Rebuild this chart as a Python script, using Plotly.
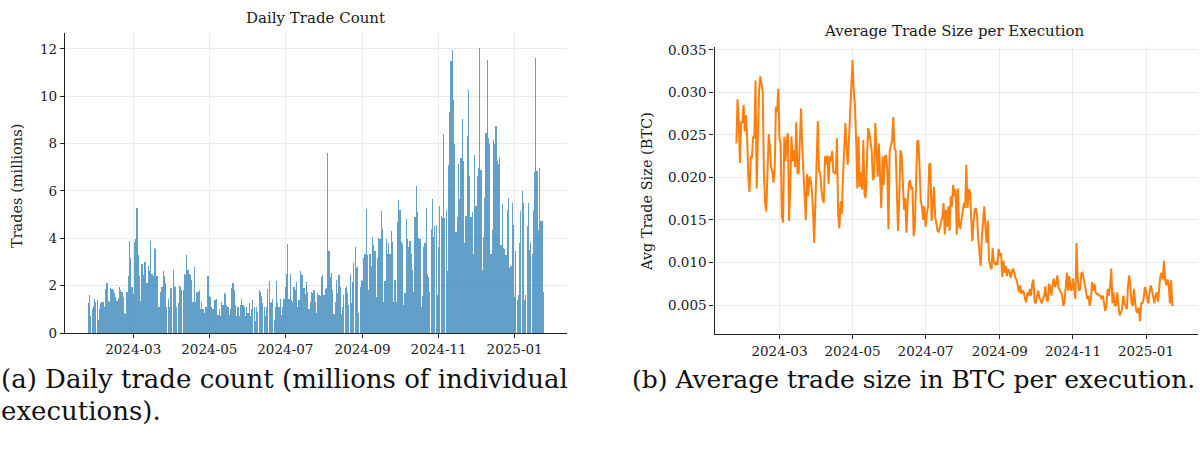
import pandas as pd
import plotly.graph_objects as go

start_date = "2024-01-25"

# Daily trade count (millions), one value per day from start_date
trade_count_m = [
    1.25,1.6,0.72,1.0,1.15,1.45,1.3,
    1.4,0.55,1.0,1.25,1.3,1.3,1.1,
    1.85,2.1,1.35,1.3,1.9,1.85,1.8,
    1.7,1.5,1.35,1.45,1.95,1.8,1.75,
    1.5,0.85,0.8,1.75,2.4,3.9,3.15,
    1.95,
    1.65,3.85,3.95,5.3,3.3,2.4,1.35,
    2.9,2.45,3.0,3.0,2.1,2.85,2.6,
    3.9,2.5,2.4,3.6,3.55,2.4,1.1,
    1.1,1.75,1.95,2.6,2.4,2.1,1.1,
    1.45,1.1,1.9,1.9,2.65,2.0,1.95,
    1.1,1.25,2.0,1.95,1.8,1.8,2.5,
    2.45,3.3,2.65,2.5,2.45,2.25,1.3,
    2.8,1.3,1.75,1.75,
    1.8,1.0,1.3,1.0,0.85,1.1,1.1,2.4,1.55,1.5,
    1.1,1.0,1.4,1.4,1.45,0.75,1.0,0.7,
    1.3,1.2,1.7,1.65,1.2,1.1,0.75,1.0,1.9,2.1,
    1.8,1.2,0.7,1.1,0.7,1.2,1.45,1.2,1.1,0.7,
    1.1,0.85,1.25,0.7,1.0,1.4,1.1,0.5,1.1,
    0.9,1.8,1.75,1.55,1.25,1.1,0.7,1.1,1.85,2.2,
    1.25,1.3,1.45,0.55,1.1,2.2,1.25,1.1,1.45,
    0.75,1.1,1.45,1.95,2.5,3.75,1.45,2.5,1.4,
    1.3,1.95,1.8,2.15,1.1,1.4,2.6,2.5,2.45,
    1.9,1.65,2.15,1.75,1.0,1.3,1.75,1.7,
    1.8,1.3,0.85,1.7,1.6,1.55,2.35,2.45,1.6,
    1.85,1.9,7.6,3.45,2.35,2.55,1.8,0.8,1.3,2.25,
    1.7,2.45,1.95,0.8,1.1,1.6,1.9,2.0,
    1.7,1.2,2.5,1.25,2.15,2.95,3.65,2.75,2.85,
    0.85,1.95,2.25,2.2,3.15,3.35,5.25,3.3,1.8,3.35,
    2.85,4.05,3.7,3.45,1.5,3.15,4.0,3.95,
    5.15,4.4,1.3,2.2,3.95,3.35,3.8,3.35,4.3,3.85,
    1.3,2.25,1.3,4.7,5.6,5.2,3.85,3.75,1.2,1.7,
    4.8,3.95,3.65,3.9,3.35,2.65,1.75,4.9,6.2,5.1,
    4.0,3.95,1.1,1.55,3.65,3.8,5.3,2.5,
    2.35,1.75,4.4,5.65,4.05,4.5,4.55,1.6,3.65,5.35,
    4.95,4.85,8.4,4.85,5.2,2.6,7.1,9.35,11.5,
    11.95,9.85,8.0,4.25,4.9,7.15,5.65,7.4,9.05,7.25,
    3.8,4.95,8.3,10.25,6.65,4.9,5.1,3.35,
    7.5,5.35,6.65,6.95,12.05,6.9,2.65,4.05,5.7,8.45,
    11.55,8.25,8.0,3.35,4.35,8.15,8.0,8.75,7.25,7.15,
    7.45,3.7,5.45,3.6,3.55,3.3,5.2,5.7,2.75,
    2.85,5.5,4.55,1.5,3.45,1.4,1.6,3.8,
    5.15,6.0,5.5,1.4,1.6,4.5,5.5,3.5,3.85,
    3.35,5.2,6.8,11.6,6.85,4.35,6.95,4.75,4.75,
    1.75,
]

# Average trade size per execution (BTC), one value per day from start_date
avg_trade_size = [
    0.0240,0.0292,0.0265,0.0217,0.0265,0.0265,0.0285,0.0254,0.0273,0.0248,
    0.0201,0.0183,0.0225,0.0223,0.0248,0.0246,0.0314,0.0187,0.0248,0.0302,
    0.0319,0.0306,0.0301,0.0206,0.0170,0.0160,0.0197,0.0251,0.0236,0.0211,
    0.0207,0.0194,0.0211,0.0283,0.0277,0.0304,0.0246,0.0240,0.0154,0.0147,
    0.0248,0.0219,0.0244,0.0252,0.0149,0.0186,0.0248,0.0219,0.0232,
    0.0212,0.0265,0.0206,0.0204,0.0244,0.0281,0.0236,0.0201,0.0178,0.0150,
    0.0204,0.0178,0.0201,0.0197,0.0186,0.0162,0.0123,0.0165,0.0219,0.0266,
    0.0207,0.0206,0.0186,0.0174,0.0170,0.0225,0.0215,0.0226,0.0192,0.0225,
    0.0219,0.0231,0.0206,0.0206,0.0204,0.0246,0.0156,0.0140,0.0172,
    0.0157,0.0199,0.0226,0.0264,0.0236,0.0215,0.0244,0.0275,0.0314,0.0338,
    0.0302,0.0285,0.0244,0.0187,0.0248,0.0189,0.0206,0.0186,0.0244,0.0180,
    0.0176,0.0236,0.0258,0.0252,0.0244,0.0231,0.0197,0.0201,0.0264,0.0234,
    0.0201,0.0240,0.0192,
    0.0164,0.0225,0.0191,0.0225,0.0226,0.0209,0.0139,0.0230,
    0.0236,0.0244,0.0271,0.0234,0.0232,0.0186,0.0137,0.0174,0.0232,0.0226,
    0.0197,0.0162,0.0176,0.0135,0.0170,0.0192,0.0197,0.0186,0.0189,0.0131,
    0.0141,0.0213,0.0242,0.0244,0.0206,0.0172,0.0166,0.0150,0.0166,0.0142,
    0.0157,0.0166,0.0215,0.0217,0.0149,0.0178,0.0189,0.0154,0.0142,0.0137,
    0.0136,0.0142,0.0149,0.0154,0.0170,0.0133,0.0162,0.0142,0.0166,
    0.0137,0.0178,0.0166,0.0191,0.0178,0.0186,0.0133,0.0187,0.0142,0.0141,
    0.0150,0.0162,0.0170,0.0164,0.0215,0.0164,0.0186,0.0184,0.0149,0.0125,
    0.0147,0.0162,0.0164,0.0154,0.0127,0.0111,0.0096,0.0131,0.0145,0.0166,
    0.0141,0.0123,0.0149,0.0102,0.0096,0.0092,0.0117,0.0100,0.0098,
    0.0100,0.0097,0.0116,0.0108,0.0111,0.0083,0.0102,0.0088,0.0096,0.0084,
    0.0092,0.0090,0.0082,0.0088,0.0093,0.0088,0.0082,0.0080,0.0073,0.0065,
    0.0073,0.0063,0.0067,0.0065,0.0057,0.0053,0.0065,
    0.0061,0.0069,0.0061,0.0075,0.0080,0.0054,0.0052,0.0061,0.0067,0.0059,
    0.0054,0.0052,0.0057,0.0061,0.0072,0.0057,0.0054,0.0075,0.0071,0.0061,
    0.0073,0.0081,0.0071,0.0075,0.0085,0.0071,0.0067,0.0065,0.0061,0.0049,
    0.0054,0.0073,0.0088,0.0067,0.0084,0.0069,0.0067,0.0081,0.0069,0.0057,
    0.0123,0.0081,0.0067,0.0069,0.0087,0.0088,0.0081,0.0073,0.0061,0.0057,
    0.0061,0.0049,0.0057,0.0077,0.0067,0.0075,0.0065,0.0063,0.0063,0.0061,
    0.0061,0.0057,0.0061,0.0052,0.0043,0.0050,0.0069,0.0061,0.0071,0.0093,
    0.0052,0.0065,0.0049,0.0050,0.0065,0.0049,0.0038,0.0041,0.0045,0.0061,
    0.0052,0.0049,0.0045,0.0073,0.0085,0.0071,0.0052,0.0049,0.0069,0.0052,
    0.0043,0.0041,0.0047,0.0031,0.0052,0.0052,0.0057,0.0071,0.0067,0.0057,
    0.0052,0.0065,0.0073,0.0067,0.0057,0.0052,0.0061,0.0065,0.0054,0.0067,
    0.0084,0.0088,0.0080,0.0102,0.0080,0.0073,0.0080,0.0073,0.0052,0.0079,
    0.0050,0.0050,
]

left_title = "Daily Trade Count"
right_title = "Average Trade Size per Execution"
left_ylabel = "Trades (millions)"
right_ylabel = "Avg Trade Size (BTC)"
caption_a1 = "(a) Daily trade count (millions of individual"
caption_a2 = "executions)."
caption_b = "(b) Average trade size in BTC per execution."
count_ticks = [0, 2, 4, 6, 8, 10, 12]
size_ticks = [0.005, 0.010, 0.015, 0.020, 0.025, 0.030, 0.035]

bar_dates = pd.date_range(start_date, periods=len(trade_count_m), freq="D")
line_dates = pd.date_range(start_date, periods=len(avg_trade_size), freq="D")

W, H = 1200, 458
def px(x):
    return x / W
def py(y):
    return 1 - y / H

FONT = "DejaVu Serif"
TXT = "#1a1a1a"
GRID = "#ebebeb"
AX = "#222222"
TICK_SIZE = 13.5
LABEL_SIZE = 14.5
TITLE_SIZE = 15

fig = go.Figure()
fig.add_trace(go.Bar(
    x=bar_dates, y=trade_count_m, xaxis="x", yaxis="y",
    width=0.95 * 86400000,
    marker=dict(color="rgba(31,119,180,0.7)", line=dict(width=0)),
    showlegend=False,
))
fig.add_trace(go.Scatter(
    x=line_dates, y=avg_trade_size, xaxis="x2", yaxis="y2",
    mode="lines", line=dict(color="#ff7f0e", width=2),
    showlegend=False,
))

common_x = dict(
    type="date", tickformat="%Y-%m", dtick="M2", tick0="2024-03-01",
    showgrid=True, gridcolor=GRID, gridwidth=1,
    showline=True, linecolor=AX, linewidth=1.3,
    ticks="outside", ticklen=4, tickwidth=1, tickcolor=AX,
    tickfont=dict(family=FONT, size=TICK_SIZE, color=TXT),
    zeroline=False, automargin=False,
)
common_y = dict(
    showgrid=True, gridcolor=GRID, gridwidth=1,
    showline=True, linecolor=AX, linewidth=1.3,
    ticks="outside", ticklen=4, tickwidth=1, tickcolor=AX,
    tickfont=dict(family=FONT, size=TICK_SIZE, color=TXT),
    zeroline=False, automargin=False,
)

fig.update_layout(
    width=W, height=H,
    margin=dict(l=0, r=0, t=0, b=0, pad=0, autoexpand=False),
    paper_bgcolor="white", plot_bgcolor="white",
    bargap=0,
    xaxis=dict(common_x, domain=[px(65), px(567)], anchor="y",
               range=["2024-01-06 06:00", "2025-02-12 00:00"]),
    yaxis=dict(common_y, domain=[py(333), py(33)], anchor="x",
               range=[0, 12.67], tickvals=count_ticks),
    xaxis2=dict(common_x, domain=[px(714.5), px(1198)], anchor="y2",
                range=["2024-01-06 18:00", "2025-02-13 10:00"]),
    yaxis2=dict(common_y, domain=[py(334.3), py(47)], anchor="x2",
                range=[0.00156, 0.03534], tickvals=size_ticks, tickformat=".3f"),
    annotations=[
        dict(text=left_title, x=px(316), y=py(18), xref="paper", yref="paper",
             showarrow=False, xanchor="center", yanchor="middle",
             font=dict(family=FONT, size=TITLE_SIZE, color=TXT)),
        dict(text=right_title, x=px(955), y=py(31), xref="paper", yref="paper",
             showarrow=False, xanchor="center", yanchor="middle",
             font=dict(family=FONT, size=TITLE_SIZE, color=TXT)),
        dict(text=left_ylabel, x=px(17), y=py(186), xref="paper", yref="paper",
             showarrow=False, xanchor="center", yanchor="middle", textangle=-90,
             font=dict(family=FONT, size=LABEL_SIZE, color=TXT)),
        dict(text=right_ylabel, x=px(647), y=py(192), xref="paper", yref="paper",
             showarrow=False, xanchor="center", yanchor="middle", textangle=-90,
             font=dict(family=FONT, size=LABEL_SIZE, color=TXT)),
        dict(text=caption_a1, x=px(-1), y=py(379), xref="paper", yref="paper",
             showarrow=False, xanchor="left", yanchor="middle",
             font=dict(family=FONT, size=26, color="#111111")),
        dict(text=caption_a2, x=px(-1), y=py(411), xref="paper", yref="paper",
             showarrow=False, xanchor="left", yanchor="middle",
             font=dict(family=FONT, size=26, color="#111111")),
        dict(text=caption_b, x=px(630), y=py(379), xref="paper", yref="paper",
             showarrow=False, xanchor="left", yanchor="middle",
             font=dict(family=FONT, size=25, color="#111111")),
    ],
)

fig.write_html(
    "out.html",
    config={"displayModeBar": False},
    post_script="document.body.style.margin='0';document.body.style.overflow='hidden';",
)
